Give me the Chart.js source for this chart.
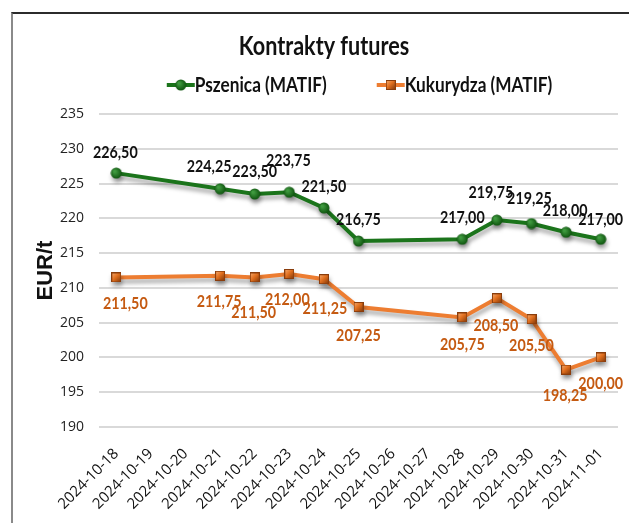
<!DOCTYPE html>
<html>
<head>
<meta charset="utf-8">
<script src="https://cdn.jsdelivr.net/npm/chart.js@4"></script>
<style>
  body { margin: 0; background: #fff; overflow: hidden; }
  #frame { position: absolute; left: 11px; top: 12px; width: 700px; height: 600px;
           border-top: 2px solid #2b2b2b; border-left: 2px solid #8a8a8a; }
  #chart { position: absolute; left: 0; top: 0; }
</style>
</head>
<body>
<div id="frame"></div>
<canvas id="chart" width="648" height="523"></canvas>
<script>
const days = ["2024-10-18", "2024-10-19", "2024-10-20", "2024-10-21", "2024-10-22",
              "2024-10-23", "2024-10-24", "2024-10-25", "2024-10-26", "2024-10-27",
              "2024-10-28", "2024-10-29", "2024-10-30", "2024-10-31", "2024-11-01"];
const wheat = [226.50, null, null, 224.25, 223.50, 223.75, 221.50, 216.75, null, null,
               217.00, 219.75, 219.25, 218.00, 217.00];
const corn = [211.50, null, null, 211.75, 211.50, 212.00, 211.25, 207.25, null, null,
              205.75, 208.50, 205.50, 198.25, 200.00];
const seriesNames = ["Pszenica (MATIF)", "Kukurydza (MATIF)"];
const chartTitle = "Kontrakty futures";

// label nudges (dx, dy) from the point, like the hand-placed labels in the original
const wheatShift = [[-1, -21], null, null, [-11, -22], [0, -22], [-1, -32], [0, -21], [0, -21], null, null,
                    [0, -22], [-6, -28], [-2, -25], [-1, -22], [0, -20]];
const cornShift = [[9, 26], null, null, [-1, 26], [-1, 35], [-2, 26], [1, 29], [0, 28], null, null,
                   [0, 27], [-1, 27], [0, 26], [-1, 26], [0, 26]];

const boldFont = "Lato, 'Open Sans', sans-serif";
const green = "#1b741b";
const orange = "#ed7d31";

function circleMarker(size) {
  const c = document.createElement("canvas");
  c.width = c.height = size;
  const g = c.getContext("2d");
  const r = size / 2;
  const grad = g.createRadialGradient(r * 0.7, r * 0.7, 1, r, r, r);
  grad.addColorStop(0, "#3f9a3f");
  grad.addColorStop(1, "#0b4f0b");
  g.fillStyle = grad;
  g.beginPath();
  g.arc(r, r, r - 0.5, 0, Math.PI * 2);
  g.fill();
  return c;
}

function squareMarker(size) {
  const c = document.createElement("canvas");
  c.width = c.height = size;
  const g = c.getContext("2d");
  const grad = g.createLinearGradient(0, 0, size, size);
  grad.addColorStop(0, "#f7b27a");
  grad.addColorStop(0.45, "#e2701f");
  grad.addColorStop(1, "#7a3306");
  g.fillStyle = grad;
  g.fillRect(0, 0, size, size);
  g.strokeStyle = "#8a3d0c";
  g.lineWidth = 1;
  g.strokeRect(0.5, 0.5, size - 1, size - 1);
  return c;
}

const wheatMarker = circleMarker(12);
const cornMarker = squareMarker(10);

// the original uses a narrow bold face, so squeeze the text horizontally
function narrowText(ctx, text, x, y, sx) {
  ctx.save();
  ctx.translate(x, y);
  ctx.scale(sx, 1);
  ctx.fillText(text, 0, 0);
  ctx.restore();
}

const lineShadow = {
  id: "lineShadow",
  beforeDatasetDraw(chart) {
    const ctx = chart.ctx;
    ctx.save();
    ctx.shadowColor = "rgba(0,0,0,0.35)";
    ctx.shadowBlur = 4;
    ctx.shadowOffsetX = 1;
    ctx.shadowOffsetY = 4;
  },
  afterDatasetDraw(chart) {
    chart.ctx.restore();
  }
};

const valueLabels = {
  id: "valueLabels",
  afterDatasetsDraw(chart) {
    const ctx = chart.ctx;
    chart.data.datasets.forEach((ds, i) => {
      const meta = chart.getDatasetMeta(i);
      ctx.save();
      ctx.font = "bold 17px " + boldFont;
      ctx.fillStyle = ds.labelColor;
      ctx.textAlign = "center";
      ctx.textBaseline = "middle";
      meta.data.forEach((pt, j) => {
        const v = ds.data[j];
        if (v === null) return;
        const s = ds.labelShift[j];
        narrowText(ctx, v.toFixed(2).replace(".", ","), pt.x + s[0], pt.y + s[1], 0.84);
      });
      ctx.restore();
    });
  }
};

// title and legend (line + marker, then the series name)
const header = {
  id: "header",
  afterDraw(chart) {
    const ctx = chart.ctx;
    const area = chart.chartArea;
    ctx.save();
    ctx.fillStyle = "#111";
    ctx.textBaseline = "middle";
    ctx.textAlign = "center";
    ctx.font = "bold 27px " + boldFont;
    narrowText(ctx, chartTitle, chart.width / 2, 46, 0.8);

    const y = 85, icon = 28, gap = 50, sx = 0.82;
    ctx.textAlign = "left";
    ctx.font = "bold 21px " + boldFont;
    const items = chart.data.datasets;
    const widths = items.map(ds => icon + ctx.measureText(ds.label).width * sx);
    let x = (area.left + area.right) / 2 + 1 - (widths[0] + gap + widths[1]) / 2;
    items.forEach((ds, i) => {
      ctx.strokeStyle = ds.borderColor;
      ctx.lineWidth = 4;
      ctx.beginPath();
      ctx.moveTo(x, y);
      ctx.lineTo(x + icon, y);
      ctx.stroke();
      const m = ds.pointStyle;
      ctx.drawImage(m, x + icon / 2 - m.width / 2, y - m.height / 2);
      narrowText(ctx, ds.label, x + icon, y, sx);
      x += widths[i] + gap;
    });
    ctx.restore();
  }
};

new Chart(document.getElementById("chart"), {
  type: "line",
  data: {
    labels: days,
    datasets: [{
      label: seriesNames[0],
      data: wheat,
      borderColor: green,
      borderWidth: 4,
      pointStyle: wheatMarker,
      pointRadius: 5,
      labelColor: "#111",
      labelShift: wheatShift
    }, {
      label: seriesNames[1],
      data: corn,
      borderColor: orange,
      borderWidth: 4,
      pointStyle: cornMarker,
      pointRadius: 5,
      labelColor: "#c55a11",
      labelShift: cornShift
    }]
  },
  options: {
    responsive: false,
    animation: false,
    spanGaps: true,
    layout: { padding: { left: 0, right: 30, top: 114, bottom: 0 } },
    plugins: {
      legend: { display: false },
      tooltip: { enabled: false },
      title: { display: false }
    },
    scales: {
      x: {
        offset: true,
        grid: { display: false, drawTicks: false },
        border: { display: false },
        ticks: {
          autoSkip: false, minRotation: 45, maxRotation: 45, padding: 18,
          color: "#111", font: { family: "'Open Sans'", size: 15 }
        },
        afterFit(scale) { scale.height = 96; }
      },
      y: {
        min: 190,
        max: 235,
        grid: { color: "#d9d9d9", lineWidth: 2, drawTicks: false },
        border: { display: false },
        ticks: {
          stepSize: 5, padding: 15,
          color: "#222", font: { family: "'Open Sans'", size: 14 }
        },
        title: {
          display: true,
          text: "EUR/t",
          color: "#111",
          font: { family: "'Liberation Sans', Arial, sans-serif", size: 22, weight: "bold" },
          padding: { top: 33 }
        },
        afterFit(scale) { scale.width = 99; }
      }
    }
  },
  plugins: [lineShadow, valueLabels, header]
});
</script>
</body>
</html>
